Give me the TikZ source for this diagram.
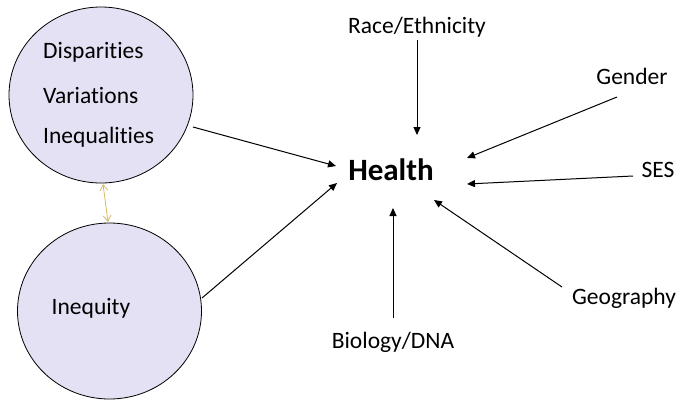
\documentclass[tikz,border=0pt]{standalone}
\usepackage{fontspec}
\setmainfont{Carlito}[Ligatures={NoCommon}]
\usetikzlibrary{arrows.meta,shapes.geometric}
\definecolor{lav}{RGB}{227,225,243}
\definecolor{gold}{RGB}{212,186,100}
\tikzset{
  bubble/.style={ellipse, draw=black, line width=0.8pt, fill=lav, minimum width=184pt, minimum height=176pt, inner sep=0pt},
  lbl/.style={font=\fontsize{23.5}{27}\selectfont, inner sep=0pt, text=black},
  arr/.style={-{Triangle[length=8pt,width=7pt]}, line width=1pt, black},
  dbl/.style={{Straight Barb[length=6pt,width=8pt]}-{Straight Barb[length=6pt,width=8pt]}, line width=0.8pt, gold}
}
\begin{document}
\begin{tikzpicture}[x=1pt,y=-1pt]
\useasboundingbox (0,0) rectangle (678,400);
\node[bubble] (c1) at (101,95) {};
\node[bubble] (c2) at (109.5,311) {};
\node[lbl, anchor=west] (t1) at (43,52) {Disparities};
\node[lbl, anchor=west] (t2) at (43,95) {Variations};
\node[lbl, anchor=west] (t3) at (43,137) {Inequalities};
\node[lbl] (t4) at (91,308) {Inequity};
\node[lbl, font=\fontsize{31}{36}\selectfont\bfseries] (health) at (391,170) {Health};
\node[lbl] (race) at (417,27) {Race/Ethnicity};
\node[lbl] (gender) at (632,76) {Gender};
\node[lbl] (ses) at (658,170) {SES};
\node[lbl] (geo) at (624,298) {Geography};
\node[lbl] (bio) at (393,342) {Biology/DNA};
% endpoints
\coordinate (a1s) at (193,127); \coordinate (a1e) at (336,166);
\coordinate (a2s) at (202,298); \coordinate (a2e) at (337,183);
\coordinate (r1s) at (417,40); \coordinate (r1e) at (417,135);
\coordinate (g1s) at (617,97); \coordinate (g1e) at (467,158);
\coordinate (s1s) at (633,176); \coordinate (s1e) at (467,184);
\coordinate (e1s) at (562,287); \coordinate (e1e) at (434,200);
\coordinate (b1s) at (393,318); \coordinate (b1e) at (393,208);
\coordinate (d1) at (103,184); \coordinate (d2) at (108,222);
\draw[arr] (a1s) -- (a1e);
\draw[arr] (a2s) -- (a2e);
\draw[arr] (r1s) -- (r1e);
\draw[arr] (g1s) -- (g1e);
\draw[arr] (s1s) -- (s1e);
\draw[arr] (e1s) -- (e1e);
\draw[arr] (b1s) -- (b1e);
\draw[dbl] (d1) -- (d2);
\end{tikzpicture}
\end{document}
